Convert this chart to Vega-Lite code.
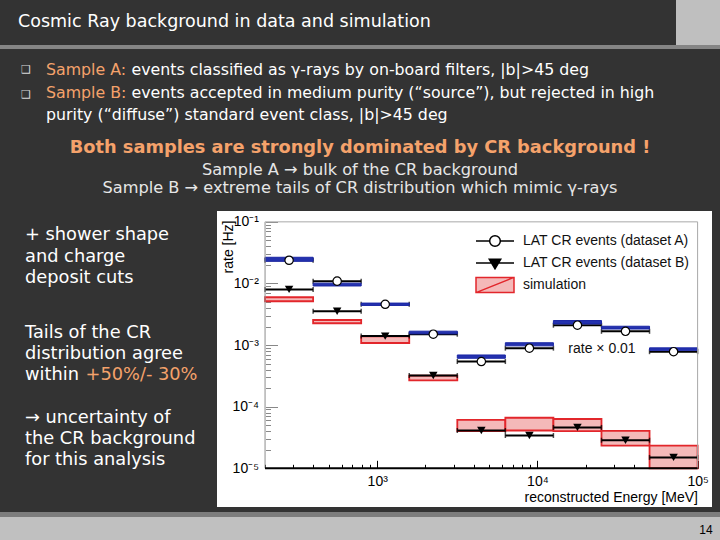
{
  "$schema": "https://vega.github.io/schema/vega-lite/v6.json",
  "background": "#333333",
  "padding": 0,
  "spacing": 0,
  "config": {"view": {"stroke": null}},
  "vconcat": [
    {
      "spacing": 0,
      "hconcat": [
        {
          "width": 676,
          "height": 45,
          "data": {"values": [{"slot": "title", "text": "Cosmic Ray background in data and simulation"}]},
          "mark": {"type": "text", "align": "left", "baseline": "middle", "font": "DejaVu Sans", "fontSize": 17.5, "color": "#ffffff"},
          "encoding": {
            "x": {"field": "slot", "type": "nominal", "scale": {"type": "point", "padding": 0, "range": [18, 18]}, "axis": null},
            "y": {"field": "slot", "type": "nominal", "scale": {"type": "point", "padding": 0, "range": [22, 22]}, "axis": null},
            "text": {"field": "text"}
          }
        },
        {
          "width": 44,
          "height": 45,
          "view": {"fill": "#bfbfbf", "stroke": null},
          "data": {"values": []},
          "mark": {"type": "text"},
          "encoding": {"text": {"field": "text"}}
        }
      ]
    },
    {
      "width": 720,
      "height": 4,
      "view": {"fill": "#858585", "stroke": null},
      "data": {"values": []},
      "mark": {"type": "text"},
      "encoding": {"text": {"field": "text"}}
    },
    {
      "width": 720,
      "height": 162,
      "data": {"values": [
        {"slot": "b1", "col": "bullet", "kind": "plain", "text": "❑"},
        {"slot": "b2", "col": "bullet", "kind": "plain", "text": "❑"},
        {"slot": "b1", "col": "start", "kind": "accent", "text": "Sample A:"},
        {"slot": "b1", "col": "after", "kind": "plain", "text": "events classified as γ-rays by on-board filters, |b|>45 deg"},
        {"slot": "b2", "col": "start", "kind": "accent", "text": "Sample B:"},
        {"slot": "b2", "col": "after", "kind": "plain", "text": "events accepted in medium purity (“source”), but rejected in high"},
        {"slot": "b2c", "col": "start", "kind": "plain", "text": "purity (“diffuse”) standard event class, |b|>45 deg"},
        {"slot": "hl", "col": "center", "kind": "accent", "text": "Both samples are strongly dominated by CR background !"},
        {"slot": "sa", "col": "center", "kind": "plain", "text": "Sample A → bulk of the CR background"},
        {"slot": "sb", "col": "center", "kind": "plain", "text": "Sample B → extreme tails of CR distribution which mimic γ-rays"}
      ]},
      "layer": [
        {
          "transform": [{"filter": "datum.col === 'bullet'"}],
          "mark": {"type": "text", "align": "left", "baseline": "middle", "font": "DejaVu Sans", "fontSize": 11, "color": "#d9d9d9"},
          "encoding": {
            "x": {"field": "col", "type": "nominal", "scale": {"type": "point", "padding": 0, "range": [21, 21]}, "axis": null},
            "y": {"field": "slot", "type": "nominal", "scale": {"type": "point", "padding": 0, "domain": ["b1", "b2"], "range": [21, 46]}, "axis": null},
            "text": {"field": "text"}
          }
        },
        {
          "transform": [{"filter": "datum.col === 'start' || datum.col === 'after'"}],
          "mark": {"type": "text", "align": "left", "baseline": "middle", "font": "DejaVu Sans", "fontSize": 15.8},
          "encoding": {
            "x": {"field": "col", "type": "nominal", "scale": {"type": "point", "padding": 0, "domain": ["start", "after"], "range": [46, 131.5]}, "axis": null},
            "y": {"field": "slot", "type": "nominal", "scale": {"type": "point", "padding": 0, "domain": ["b1", "b2", "b2c"], "range": [21, 66]}, "axis": null},
            "color": {"field": "kind", "type": "nominal", "scale": {"domain": ["plain", "accent"], "range": ["#ffffff", "#f5a26b"]}, "legend": null},
            "text": {"field": "text"}
          }
        },
        {
          "transform": [{"filter": "datum.slot === 'hl'"}],
          "mark": {"type": "text", "align": "center", "baseline": "middle", "font": "DejaVu Sans", "fontWeight": "bold", "fontSize": 17.8, "color": "#f5a26b"},
          "encoding": {
            "y": {"field": "slot", "type": "nominal", "scale": {"type": "point", "padding": 0, "range": [99, 99]}, "axis": null},
            "text": {"field": "text"}
          }
        },
        {
          "transform": [{"filter": "datum.slot === 'sa' || datum.slot === 'sb'"}],
          "mark": {"type": "text", "align": "center", "baseline": "middle", "font": "DejaVu Sans", "fontSize": 16.2, "color": "#e6e6e6"},
          "encoding": {
            "y": {"field": "slot", "type": "nominal", "scale": {"type": "point", "padding": 0, "domain": ["sa", "sb"], "range": [121, 139]}, "axis": null},
            "text": {"field": "text"}
          }
        }
      ],
      "resolve": {"scale": {"x": "independent", "y": "independent", "color": "independent"}}
    },
    {
      "spacing": 0,
      "hconcat": [
        {
          "width": 217,
          "height": 301,
          "data": {"values": [
            {"block": "p1", "line": "l1", "col": "start", "kind": "plain", "text": "+ shower shape"},
            {"block": "p1", "line": "l2", "col": "start", "kind": "plain", "text": "and charge"},
            {"block": "p1", "line": "l3", "col": "start", "kind": "plain", "text": "deposit cuts"},
            {"block": "p2", "line": "l1", "col": "start", "kind": "plain", "text": "Tails of the CR"},
            {"block": "p2", "line": "l2", "col": "start", "kind": "plain", "text": "distribution agree"},
            {"block": "p2", "line": "l3", "col": "start", "kind": "plain", "text": "within"},
            {"block": "p2", "line": "l3", "col": "after", "kind": "accent", "text": "+50%/- 30%"},
            {"block": "p3", "line": "l1", "col": "start", "kind": "plain", "text": "→  uncertainty of"},
            {"block": "p3", "line": "l2", "col": "start", "kind": "plain", "text": "the CR background"},
            {"block": "p3", "line": "l3", "col": "start", "kind": "plain", "text": "for this analysis"}
          ]},
          "layer": [
            {
              "transform": [{"filter": "datum.block === 'p1'"}],
              "mark": {"type": "text", "align": "left", "baseline": "middle", "font": "DejaVu Sans", "fontSize": 17.8},
              "encoding": {
                "x": {"field": "col", "type": "nominal", "scale": {"type": "point", "padding": 0, "domain": ["start"], "range": [25, 25]}, "axis": null},
                "y": {"field": "line", "type": "nominal", "scale": {"type": "point", "padding": 0, "domain": ["l1", "l2", "l3"], "range": [24, 67]}, "axis": null},
                "color": {"field": "kind", "type": "nominal", "scale": {"domain": ["plain", "accent"], "range": ["#ffffff", "#f5a26b"]}, "legend": null},
                "text": {"field": "text"}
              }
            },
            {
              "transform": [{"filter": "datum.block === 'p2'"}],
              "mark": {"type": "text", "align": "left", "baseline": "middle", "font": "DejaVu Sans", "fontSize": 17.8},
              "encoding": {
                "x": {"field": "col", "type": "nominal", "scale": {"type": "point", "padding": 0, "domain": ["start", "after"], "range": [25, 85.5]}, "axis": null},
                "y": {"field": "line", "type": "nominal", "scale": {"type": "point", "padding": 0, "domain": ["l1", "l2", "l3"], "range": [122, 164]}, "axis": null},
                "color": {"field": "kind", "type": "nominal", "scale": {"domain": ["plain", "accent"], "range": ["#ffffff", "#f5a26b"]}, "legend": null},
                "text": {"field": "text"}
              }
            },
            {
              "transform": [{"filter": "datum.block === 'p3'"}],
              "mark": {"type": "text", "align": "left", "baseline": "middle", "font": "DejaVu Sans", "fontSize": 17.8},
              "encoding": {
                "x": {"field": "col", "type": "nominal", "scale": {"type": "point", "padding": 0, "domain": ["start"], "range": [25, 25]}, "axis": null},
                "y": {"field": "line", "type": "nominal", "scale": {"type": "point", "padding": 0, "domain": ["l1", "l2", "l3"], "range": [207, 249]}, "axis": null},
                "color": {"field": "kind", "type": "nominal", "scale": {"domain": ["plain", "accent"], "range": ["#ffffff", "#f5a26b"]}, "legend": null},
                "text": {"field": "text"}
              }
            }
          ],
          "resolve": {"scale": {"x": "independent", "y": "independent"}}
        },
        {
          "width": 495,
          "height": 296,
          "view": {"fill": "#ffffff", "stroke": null},
          "data": {"values": [
            {"dataset": "A", "lo": 199.5, "hi": 398.1, "center": 281.8, "rate": 0.0238, "simLo": 0.0229, "simHi": 0.0266},
            {"dataset": "A", "lo": 398.1, "hi": 794.3, "center": 562.3, "rate": 0.0109, "simLo": 0.0091, "simHi": 0.0101},
            {"dataset": "A", "lo": 794.3, "hi": 1584.9, "center": 1122, "rate": 0.00459, "simLo": 0.0044, "simHi": 0.0048},
            {"dataset": "A", "lo": 1584.9, "hi": 3162.3, "center": 2239, "rate": 0.0015, "simLo": 0.00152, "simHi": 0.00168},
            {"dataset": "A", "lo": 3162.3, "hi": 6309.6, "center": 4467, "rate": 0.00054, "simLo": 0.00061, "simHi": 0.00069},
            {"dataset": "A", "lo": 6309.6, "hi": 12589, "center": 8913, "rate": 0.00089, "simLo": 0.00097, "simHi": 0.00109},
            {"dataset": "A", "lo": 12589, "hi": 25119, "center": 17783, "rate": 0.0021, "simLo": 0.0022, "simHi": 0.0025},
            {"dataset": "A", "lo": 25119, "hi": 50119, "center": 35481, "rate": 0.00167, "simLo": 0.00182, "simHi": 0.00202},
            {"dataset": "A", "lo": 50119, "hi": 100000, "center": 70795, "rate": 0.00078, "simLo": 0.00082, "simHi": 0.0009},
            {"dataset": "B", "lo": 199.5, "hi": 398.1, "center": 281.8, "rate": 0.008, "simLo": 0.00514, "simHi": 0.00597},
            {"dataset": "B", "lo": 398.1, "hi": 794.3, "center": 562.3, "rate": 0.00354, "simLo": 0.00226, "simHi": 0.00255},
            {"dataset": "B", "lo": 794.3, "hi": 1584.9, "center": 1122, "rate": 0.0014, "simLo": 0.00108, "simHi": 0.00138},
            {"dataset": "B", "lo": 1584.9, "hi": 3162.3, "center": 2239, "rate": 0.00032, "simLo": 0.000268, "simHi": 0.000318},
            {"dataset": "B", "lo": 3162.3, "hi": 6309.6, "center": 4467, "rate": 0.000041, "simLo": 0.00004, "simHi": 0.000061},
            {"dataset": "B", "lo": 6309.6, "hi": 12589, "center": 8913, "rate": 0.000034, "simLo": 0.000041, "simHi": 0.000066},
            {"dataset": "B", "lo": 12589, "hi": 25119, "center": 17783, "rate": 0.000046, "simLo": 0.00004, "simHi": 0.000063},
            {"dataset": "B", "lo": 25119, "hi": 50119, "center": 35481, "rate": 0.0000285, "simLo": 0.0000233, "simHi": 0.0000404},
            {"dataset": "B", "lo": 50119, "hi": 100000, "center": 70795, "rate": 0.000015, "simLo": 0.00001, "simHi": 0.0000233}
          ]},
          "layer": [
            {
              "transform": [{"filter": "datum.dataset === 'B'"}],
              "mark": {"type": "rect", "fill": "#f4b9b9", "stroke": "#e2262b", "strokeWidth": 1.8},
              "encoding": {
                "x": {
                  "field": "lo", "type": "quantitative",
                  "scale": {"type": "log", "domain": [100, 123000], "nice": false},
                  "axis": {
                    "title": "reconstructed Energy [MeV]",
                    "values": [200, 300, 400, 500, 600, 700, 800, 900, 1000, 2000, 3000, 4000, 5000, 6000, 7000, 8000, 9000, 10000, 20000, 30000, 40000, 50000, 60000, 70000, 80000, 90000, 100000],
                    "labelExpr": "(abs(log(datum.value)/LN10 - round(log(datum.value)/LN10)) < 0.001) ? '10' + ['⁰','¹','²','³','⁴','⁵'][round(log(datum.value)/LN10)] : ''",
                    "offset": -38.7,
                    "domain": false,
                    "grid": false,
                    "tickColor": "#000000",
                    "tickWidth": 1,
                    "tickSize": {"condition": {"test": "abs(log(datum.value)/LN10 - round(log(datum.value)/LN10)) < 0.001", "value": -8}, "value": -4},
                    "labelPadding": 14,
                    "labelFont": "Liberation Sans",
                    "labelFontSize": 14,
                    "labelColor": "#000000",
                    "labelOverlap": false,
                    "labelFlush": false,
                    "labelBound": false,
                    "titleFont": "Liberation Sans",
                    "titleFontSize": 14,
                    "titleFontWeight": "normal",
                    "titleColor": "#000000",
                    "titleAlign": "right",
                    "titleBaseline": "middle",
                    "titleX": 480.5,
                    "titleY": 29
                  }
                },
                "x2": {"field": "hi"},
                "y": {
                  "field": "simLo", "type": "quantitative",
                  "scale": {"type": "log", "domain": [0.00000235, 0.15], "nice": false},
                  "axis": {
                    "title": "rate [Hz]",
                    "values": [0.00001, 0.00002, 0.00003, 0.00004, 0.00005, 0.00006, 0.00007, 0.00008, 0.00009, 0.0001, 0.0002, 0.0003, 0.0004, 0.0005, 0.0006, 0.0007, 0.0008, 0.0009, 0.001, 0.002, 0.003, 0.004, 0.005, 0.006, 0.007, 0.008, 0.009, 0.01, 0.02, 0.03, 0.04, 0.05, 0.06, 0.07, 0.08, 0.09, 0.1],
                    "labelExpr": "(abs(log(datum.value)/LN10 - round(log(datum.value)/LN10)) < 0.001) ? '10⁻' + ['⁰','¹','²','³','⁴','⁵'][-round(log(datum.value)/LN10)] : ''",
                    "offset": -48.5,
                    "domain": false,
                    "grid": false,
                    "tickColor": "#888888",
                    "tickWidth": 1,
                    "tickSize": {"condition": {"test": "abs(log(datum.value)/LN10 - round(log(datum.value)/LN10)) < 0.001", "value": -12}, "value": -5},
                    "labelPadding": 19,
                    "labelFont": "Liberation Sans",
                    "labelFontSize": 14,
                    "labelColor": "#000000",
                    "labelOverlap": false,
                    "labelFlush": false,
                    "labelBound": false,
                    "titleFont": "Liberation Sans",
                    "titleFontSize": 14,
                    "titleFontWeight": "normal",
                    "titleColor": "#000000",
                    "titleAngle": -90,
                    "titleAlign": "right",
                    "titleBaseline": "middle",
                    "titleX": -37.5,
                    "titleY": 9
                  }
                },
                "y2": {"field": "simHi"}
              }
            },
            {
              "mark": {"type": "rule", "color": "#000000", "strokeWidth": 2},
              "encoding": {
                "x": {"field": "lo", "type": "quantitative"},
                "x2": {"field": "hi"},
                "y": {"field": "rate", "type": "quantitative"}
              }
            },
            {
              "transform": [{"fold": ["lo", "hi"], "as": ["edge", "e"]}],
              "mark": {"type": "tick", "orient": "vertical", "color": "#000000", "size": 5, "thickness": 1.5},
              "encoding": {
                "x": {"field": "e", "type": "quantitative"},
                "y": {"field": "rate", "type": "quantitative"}
              }
            },
            {
              "transform": [{"filter": "datum.dataset === 'A'"}],
              "mark": {"type": "rect", "fill": "#2432ae", "stroke": "#1a26a6", "strokeWidth": 1},
              "encoding": {
                "x": {"field": "lo", "type": "quantitative"},
                "x2": {"field": "hi"},
                "y": {"field": "simLo", "type": "quantitative"},
                "y2": {"field": "simHi"}
              }
            },
            {
              "transform": [{"filter": "datum.dataset === 'A'"}],
              "mark": {"type": "point", "shape": "circle", "filled": true, "fill": "#ffffff", "stroke": "#000000", "strokeWidth": 1.2, "size": 70, "opacity": 1},
              "encoding": {
                "x": {"field": "center", "type": "quantitative"},
                "y": {"field": "rate", "type": "quantitative"}
              }
            },
            {
              "transform": [{"filter": "datum.dataset === 'B'"}],
              "mark": {"type": "point", "shape": "triangle-down", "filled": true, "color": "#000000", "size": 72, "opacity": 1},
              "encoding": {
                "x": {"field": "center", "type": "quantitative"},
                "y": {"field": "rate", "type": "quantitative"}
              }
            },
            {
              "data": {"values": [{}]},
              "mark": {"type": "rule", "color": "#8c8c8c", "strokeWidth": 1},
              "encoding": {
                "x": {"datum": 199.5, "type": "quantitative"},
                "y": {"datum": 0.00001, "type": "quantitative"},
                "y2": {"datum": 0.1}
              }
            },
            {
              "data": {"values": [{}]},
              "mark": {"type": "rule", "color": "#a8a8a8", "strokeWidth": 1},
              "encoding": {
                "x": {"datum": 199.5, "type": "quantitative"},
                "x2": {"datum": 100000},
                "y": {"datum": 0.1, "type": "quantitative"}
              }
            },
            {
              "data": {"values": [{}]},
              "mark": {"type": "rule", "color": "#a8a8a8", "strokeWidth": 1},
              "encoding": {
                "x": {"datum": 100000, "type": "quantitative"},
                "y": {"datum": 0.00001, "type": "quantitative"},
                "y2": {"datum": 0.1}
              }
            },
            {
              "data": {"values": [{}]},
              "mark": {"type": "rule", "color": "#000000", "strokeWidth": 2},
              "encoding": {
                "x": {"datum": 199.5, "type": "quantitative"},
                "x2": {"datum": 100000},
                "y": {"datum": 0.00001, "type": "quantitative"}
              }
            },
            {
              "data": {"values": [{"note": "rate × 0.01"}]},
              "mark": {"type": "text", "align": "center", "baseline": "middle", "font": "Liberation Sans", "fontSize": 14, "color": "#111111"},
              "encoding": {
                "x": {"datum": 25300, "type": "quantitative"},
                "y": {"datum": 0.000865, "type": "quantitative"},
                "text": {"field": "note"}
              }
            },
            {
              "data": {"values": [
                {"series": "LAT CR events (dataset A)"},
                {"series": "LAT CR events (dataset B)"},
                {"series": "simulation"}
              ]},
              "transform": [{"filter": "false"}],
              "mark": {"type": "point", "filled": true, "strokeWidth": 1.5, "opacity": 1},
              "encoding": {
                "shape": {
                  "field": "series", "type": "nominal",
                  "scale": {
                    "domain": ["LAT CR events (dataset A)", "LAT CR events (dataset B)", "simulation"],
                    "range": [
                      "M-1,0H-0.28M0.28,0H1M0.28,0A0.28,0.28,0,1,1,-0.28,0A0.28,0.28,0,1,1,0.28,0Z",
                      "M-1,0H1M-0.3,-0.2L0.3,-0.2L0,0.3Z",
                      "M-1,-0.4H1V0.4H-1ZM-1,0.4L1,-0.4"
                    ]
                  },
                  "legend": {
                    "title": null,
                    "orient": "none",
                    "legendX": 475,
                    "legendY": 230,
                    "direction": "vertical",
                    "symbolSize": 1444,
                    "clipHeight": 22,
                    "rowPadding": 0,
                    "padding": 0,
                    "labelOffset": 8,
                    "labelLimit": 400,
                    "labelFont": "Liberation Sans",
                    "labelFontSize": 14,
                    "labelColor": "#111111",
                    "symbolStrokeWidth": 1.5
                  }
                },
                "fill": {
                  "field": "series", "type": "nominal",
                  "scale": {"domain": ["LAT CR events (dataset A)", "LAT CR events (dataset B)", "simulation"], "range": ["#ffffff", "#000000", "#f4b9b9"]}
                },
                "stroke": {
                  "field": "series", "type": "nominal",
                  "scale": {"domain": ["LAT CR events (dataset A)", "LAT CR events (dataset B)", "simulation"], "range": ["#000000", "#000000", "#e2262b"]}
                }
              }
            }
          ]
        }
      ]
    },
    {
      "width": 720,
      "height": 5,
      "view": {"fill": "#7d7d7d", "stroke": null},
      "data": {"values": []},
      "mark": {"type": "text"},
      "encoding": {"text": {"field": "text"}}
    },
    {
      "width": 720,
      "height": 23,
      "view": {"fill": "#c0c0c0", "stroke": null},
      "data": {"values": [{"slot": "page", "text": "14"}]},
      "mark": {"type": "text", "align": "center", "baseline": "middle", "font": "Liberation Sans", "fontSize": 12, "color": "#000000"},
      "encoding": {
        "x": {"field": "slot", "type": "nominal", "scale": {"type": "point", "padding": 0, "range": [706, 706]}, "axis": null},
        "y": {"field": "slot", "type": "nominal", "scale": {"type": "point", "padding": 0, "range": [13, 13]}, "axis": null},
        "text": {"field": "text"}
      }
    }
  ]
}
